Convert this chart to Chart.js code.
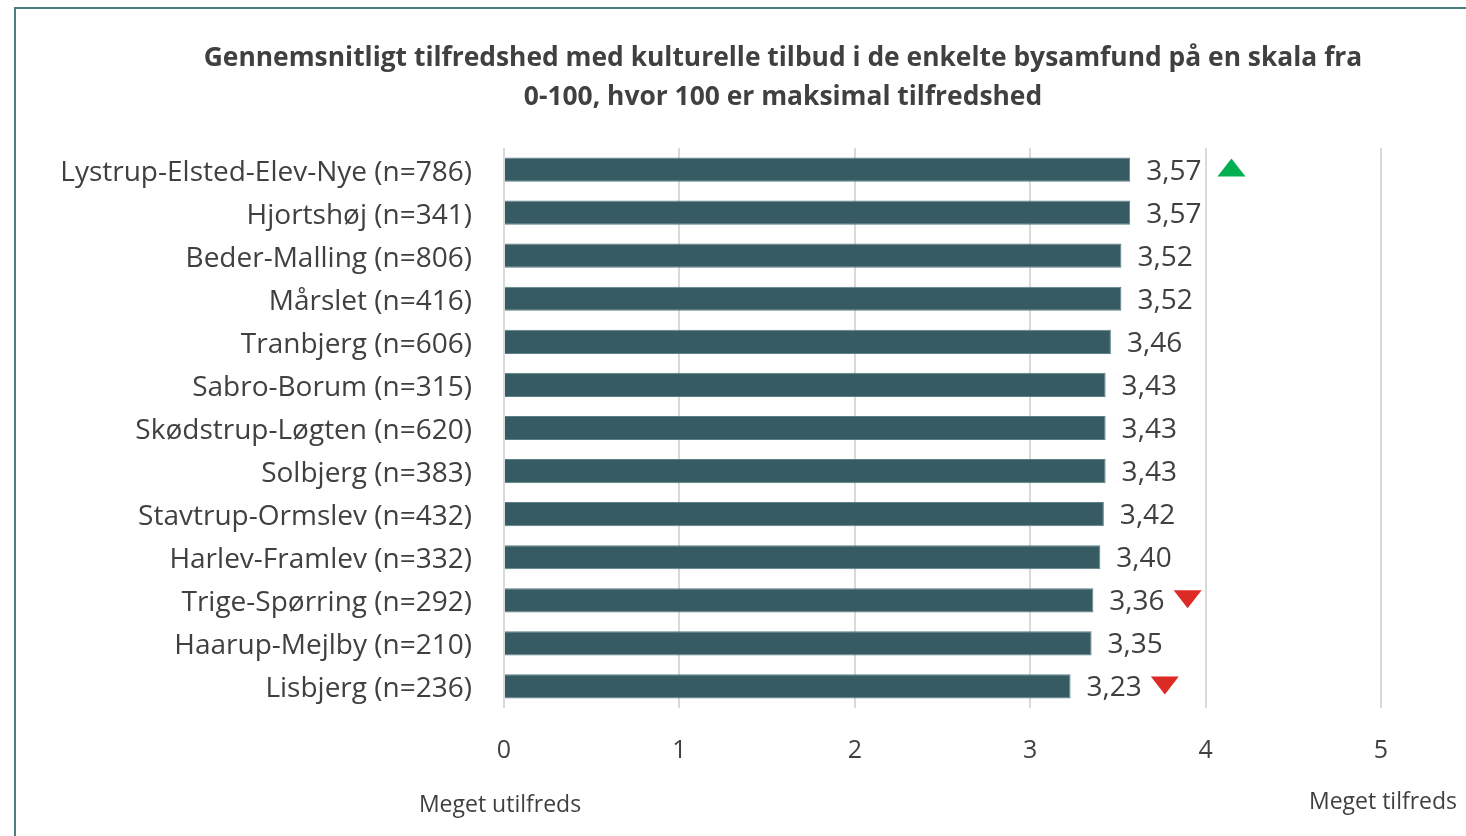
<!DOCTYPE html>
<html>
<head>
<meta charset="utf-8">
<script src="https://cdn.jsdelivr.net/npm/chart.js@4/dist/chart.umd.min.js"></script>
<style>
  html, body { margin: 0; padding: 0; background: #fff; overflow: hidden; }
  #wrap { position: relative; width: 1466px; height: 836px; }
  #frame { position: absolute; left: 14px; top: 7px; width: 1500px; height: 900px; border: 2px solid #4f7f82; box-sizing: border-box; }
  canvas { position: absolute; left: 0; top: 0; }
</style>
</head>
<body>
<div id="wrap">
  <div id="frame"></div>
  <canvas id="chart" width="1466" height="836"></canvas>
</div>
<script>
var categories = [
    'Lystrup-Elsted-Elev-Nye (n=786)',
    'Hjortshøj (n=341)',
    'Beder-Malling (n=806)',
    'Mårslet (n=416)',
    'Tranbjerg (n=606)',
    'Sabro-Borum (n=315)',
    'Skødstrup-Løgten (n=620)',
    'Solbjerg (n=383)',
    'Stavtrup-Ormslev (n=432)',
    'Harlev-Framlev (n=332)',
    'Trige-Spørring (n=292)',
    'Haarup-Mejlby (n=210)',
    'Lisbjerg (n=236)'
];
var values = [3.57, 3.57, 3.52, 3.52, 3.46, 3.43, 3.43, 3.43, 3.42, 3.40, 3.36, 3.35, 3.23];
// significant change vs. previous survey: 'up', 'down' or null
var trends = ['up', null, null, null, null, null, null, null, null, null, 'down', null, 'down'];
var titleLines = [
    'Gennemsnitligt tilfredshed med kulturelle tilbud i de enkelte bysamfund på en skala fra',
    '0-100, hvor 100 er maksimal tilfredshed'
];
var axisMinLabel = 'Meget utilfreds';
var axisMaxLabel = 'Meget tilfreds';

var FONT = "'Open Sans', sans-serif";
var TEXT = '#404040';

var labelPlugin = {
    id: 'valueLabels',
    afterDatasetsDraw: function (chart) {
        var ctx = chart.ctx;
        var meta = chart.getDatasetMeta(0);
        ctx.save();
        ctx.font = '28px ' + FONT;
        ctx.textBaseline = 'middle';
        ctx.textAlign = 'left';
        meta.data.forEach(function (bar, i) {
            var txt = values[i].toFixed(2).replace('.', ',');
            var x = bar.x + 16;
            var y = bar.y + 2;
            ctx.fillStyle = TEXT;
            ctx.fillText(txt, x, y);
            var w = ctx.measureText(txt).width;
            if (trends[i]) {
                ctx.beginPath();
                if (trends[i] === 'up') {
                    var tx = x + w + 16;
                    ctx.fillStyle = '#00b050';
                    ctx.moveTo(tx, y + 5);
                    ctx.lineTo(tx + 28, y + 5);
                    ctx.lineTo(tx + 14, y - 13);
                } else {
                    var tx = x + w + 9;
                    ctx.fillStyle = '#dc2a25';
                    ctx.moveTo(tx, y - 12);
                    ctx.lineTo(tx + 28, y - 12);
                    ctx.lineTo(tx + 14, y + 6);
                }
                ctx.closePath();
                ctx.fill();
            }
        });
        // end labels of the scale
        var xs = chart.scales.x;
        ctx.fillStyle = TEXT;
        ctx.font = '23px ' + FONT;
        ctx.textAlign = 'center';
        ctx.fillText(axisMinLabel, xs.getPixelForValue(0) - 4, 805);
        ctx.fillText(axisMaxLabel, xs.getPixelForValue(5) + 2, 802);

        // title, centred a bit right of the canvas middle like the original
        ctx.font = 'bold 26.4px ' + FONT;
        ctx.fillText(titleLines[0], 783, 58);
        ctx.fillText(titleLines[1], 783, 97);
        ctx.restore();
    }
};

new Chart(document.getElementById('chart'), {
    type: 'bar',
    data: {
        labels: categories,
        datasets: [{
            data: values,
            backgroundColor: '#365b62',
            borderColor: '#5b8086',
            borderWidth: 1,
            barPercentage: 0.72,
            categoryPercentage: 0.78
        }]
    },
    options: {
        indexAxis: 'y',
        responsive: false,
        animation: false,
        layout: { padding: { left: 0, right: 85, top: 148, bottom: 0 } },
        scales: {
            x: {
                min: 0,
                max: 5,
                ticks: { stepSize: 1, padding: 28, color: TEXT, font: { family: FONT, size: 25 } },
                grid: { color: '#d9d9d9', lineWidth: 2, drawTicks: false },
                border: { display: false },
                afterFit: function (s) { s.height = 128; }
            },
            y: {
                ticks: { padding: 32, labelOffset: 3, color: TEXT, font: { family: FONT, size: 28 } },
                grid: { display: false, drawTicks: false },
                border: { display: false },
                afterFit: function (s) { s.width = 504; }
            }
        },
        plugins: {
            legend: { display: false },
            tooltip: { enabled: false },
            title: { display: false }
        }
    },
    plugins: [labelPlugin]
});
</script>
</body>
</html>
